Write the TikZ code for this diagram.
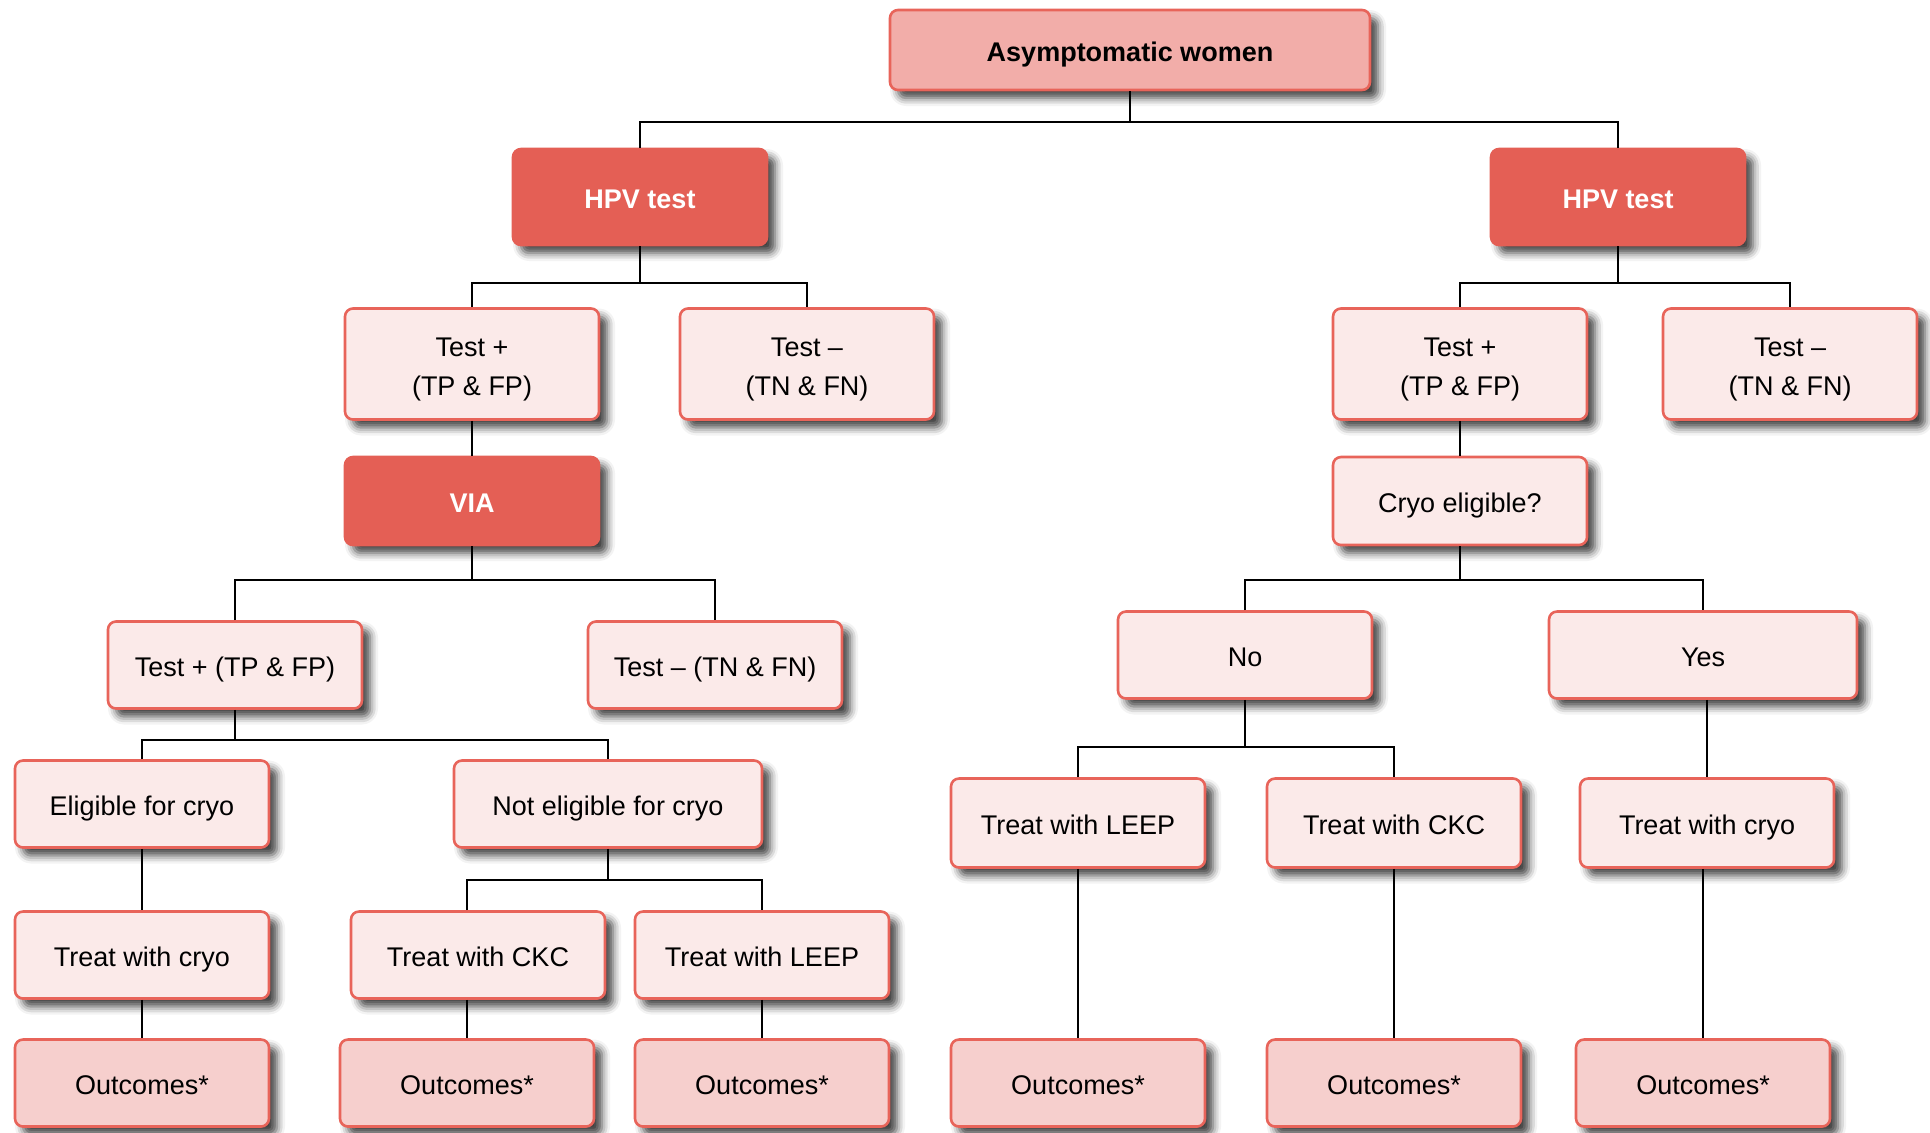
\documentclass[tikz,border=0pt]{standalone}
\usepackage{fontspec}
\setmainfont{Liberation Sans}
\usepackage{tikz}
\usetikzlibrary{shadows.blur}

\definecolor{toppink}{HTML}{F2ADA9}
\definecolor{redbox}{HTML}{E45F55}
\definecolor{redline}{HTML}{E8645A}
\definecolor{lightpink}{HTML}{FBEAE9}
\definecolor{outpink}{HTML}{F6CFCD}

\tikzset{
  box/.style={draw=redline, line width=1.3pt, rounded corners=4pt, fill=lightpink,
    minimum width=127pt, minimum height=43.5pt, inner sep=0pt, align=center,
    text height=13.8pt, text depth=2.8pt,
    font=\fontsize{13.5}{19.5}\selectfont,
    blur shadow={shadow xshift=4pt, shadow yshift=-4pt, shadow blur radius=4pt, shadow opacity=75}},
  twoline/.style={minimum height=55.5pt, text height=34.7pt, text depth=2.9pt},
  wide/.style={minimum width=154pt},
  darkbox/.style={box, fill=redbox, draw=redbox, text=white, font=\fontsize{13.5}{19.5}\selectfont\bfseries},
  topbox/.style={box, fill=toppink, minimum width=240pt, minimum height=40pt, font=\fontsize{13.5}{19.5}\selectfont\bfseries},
  outbox/.style={box, fill=outpink},
  conn/.style={line width=1.1pt}
}

\begin{document}
\begin{tikzpicture}[x=0.5pt, y=-0.5pt]
\useasboundingbox (0,0) rectangle (1930,1132);

% top and the two screening arms
\node[topbox] (top) at (1130,50) {Asymptomatic women};
\node[darkbox, minimum height=48pt] (hpvL) at (640,197) {HPV test}; \node[darkbox, minimum height=48pt] (hpvR) at (1618,197) {HPV test};

% left arm: HPV then VIA
\node[box, twoline] (tpL) at (472,364) {Test +\\(TP \& FP)}; \node[box, twoline] (tnL) at (807,364) {Test –\\(TN \& FN)};
\node[darkbox, minimum height=44pt] (via) at (472,501) {VIA};
\node[box] (tpV) at (235,665) {Test + (TP \& FP)}; \node[box] (tnV) at (715,665) {Test – (TN \& FN)};
\node[box] (elig) at (142,804) {Eligible for cryo}; \node[box, wide] (notelig) at (608,804) {Not eligible for cryo};
\node[box] (cryoL) at (142,955) {Treat with cryo}; \node[box] (ckcL) at (478,955) {Treat with CKC}; \node[box] (leepL) at (762,955) {Treat with LEEP};
\node[outbox] (outA) at (142,1083) {Outcomes*}; \node[outbox] (outB) at (467,1083) {Outcomes*}; \node[outbox] (outC) at (762,1083) {Outcomes*};

% right arm: HPV then treat
\node[box, twoline] (tpR) at (1460,364) {Test +\\(TP \& FP)}; \node[box, twoline] (tnR) at (1790,364) {Test –\\(TN \& FN)};
\node[box, minimum height=44pt] (cryoQ) at (1460,501) {Cryo eligible?};
\node[box] (no) at (1245,655) {No}; \node[box, wide] (yes) at (1703,655) {Yes};
\node[box, minimum height=44.5pt] (leepR) at (1078,823) {Treat with LEEP}; \node[box, minimum height=44.5pt] (ckcR) at (1394,823) {Treat with CKC}; \node[box, minimum height=44.5pt] (cryoR) at (1707,823) {Treat with cryo};
\node[outbox] (outD) at (1078,1083) {Outcomes*}; \node[outbox] (outE) at (1394,1083) {Outcomes*}; \node[outbox] (outF) at (1703,1083) {Outcomes*};

% connectors
\coordinate (b1) at (1130,122); \coordinate (b2) at (640,283); \coordinate (b3) at (472,580); \coordinate (b4) at (235,740); \coordinate (b5) at (608,880);
\coordinate (b6) at (1618,283); \coordinate (b7) at (1460,580); \coordinate (b8) at (1245,747);
\draw[conn] (top.south) -- (b1); \draw[conn] (hpvL.north) |- (b1) -| (hpvR.north);
\draw[conn] (hpvL.south) -- (b2); \draw[conn] (tpL.north) |- (b2) -| (tnL.north);
\draw[conn] (tpL.south) -- (via.north);
\draw[conn] (via.south) -- (b3); \draw[conn] (tpV.north) |- (b3) -| (tnV.north);
\draw[conn] (tpV.south) -- (b4); \draw[conn] (elig.north) |- (b4) -| (notelig.north);
\draw[conn] (elig.south) -- (cryoL.north); \draw[conn] (cryoL.south) -- (outA.north);
\draw[conn] (notelig.south) -- (b5); \draw[conn] (ckcL.north -| outB.north) |- (b5) -| (leepL.north);
\draw[conn] (ckcL.south -| outB.north) -- (outB.north); \draw[conn] (leepL.south) -- (outC.north);
\draw[conn] (hpvR.south) -- (b6); \draw[conn] (tpR.north) |- (b6) -| (tnR.north);
\draw[conn] (tpR.south) -- (cryoQ.north);
\draw[conn] (cryoQ.south) -- (b7); \draw[conn] (no.north) |- (b7) -| (yes.north);
\draw[conn] (no.south) -- (b8); \draw[conn] (leepR.north) |- (b8) -| (ckcR.north);
\draw[conn] (yes.south -| cryoR.north) -- (cryoR.north);
\draw[conn] (leepR.south) -- (outD.north); \draw[conn] (ckcR.south) -- (outE.north); \draw[conn] (cryoR.south -| outF.north) -- (outF.north);
\end{tikzpicture}
\end{document}
